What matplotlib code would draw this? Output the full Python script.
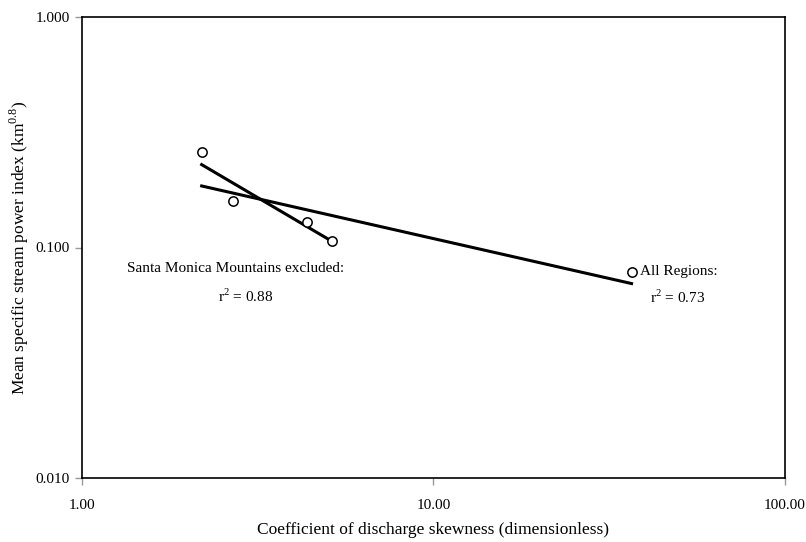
import numpy as np
import matplotlib
matplotlib.use("Agg")
import matplotlib.pyplot as plt
from matplotlib.ticker import FixedLocator, FormatStrFormatter, NullLocator

plt.rcParams['font.family'] = ['Liberation Serif', 'DejaVu Serif']
plt.rcParams['mathtext.fontset'] = 'custom'
plt.rcParams['mathtext.rm'] = 'Liberation Serif'

# data
skewness = [2.19, 2.69, 4.37, 5.14, 36.6]
stream_power = [0.260, 0.159, 0.129, 0.107, 0.078]
n_excl = 4  # Santa Monica Mountains excluded -> first four regions

fig = plt.figure(figsize=(8.06, 5.42), dpi=100)
ax = fig.add_axes([82 / 806, 1 - 478 / 542, 703 / 806, 461 / 542])

ax.scatter(skewness, stream_power, s=45, facecolors='white', edgecolors='black',
           linewidths=1.1, zorder=3)


def power_fit(x, y):
    lx, ly = np.log10(x), np.log10(y)
    b, a = np.polyfit(lx, ly, 1)
    xs = np.array([min(x), max(x)])
    return xs, 10 ** (a + b * np.log10(xs))


xs, ys = power_fit(skewness[:n_excl], stream_power[:n_excl])
ax.plot(xs, ys, color='black', lw=2.2, zorder=2)
xs, ys = power_fit(skewness, stream_power)
ax.plot(xs, ys, color='black', lw=2.2, zorder=2)

ax.set_xscale('log')
ax.set_yscale('log')
ax.set_xlim(1, 100)
ax.set_ylim(0.01, 1)
ax.xaxis.set_major_locator(FixedLocator([1, 10, 100]))
ax.yaxis.set_major_locator(FixedLocator([0.01, 0.1, 1]))
ax.xaxis.set_minor_locator(NullLocator())
ax.yaxis.set_minor_locator(NullLocator())
ax.xaxis.set_major_formatter(FormatStrFormatter('%.2f'))
ax.yaxis.set_major_formatter(FormatStrFormatter('%.3f'))
ax.tick_params(axis='both', direction='out', length=5, width=1, color='#999999',
               labelsize=11)
ax.tick_params(axis='y', pad=4)
ax.tick_params(axis='x', pad=10)
for sp in ax.spines.values():
    sp.set_linewidth(1.2)

ax.set_xlabel('Coefficient of discharge skewness (dimensionless)', fontsize=12.5)
ax.set_ylabel('Mean specific stream power index (km$^{0.8}$)', fontsize=12.5)
ax.xaxis.set_label_coords(0.5, -(530 - 478) / 461)
ax.yaxis.set_label_coords(-(82 - 19) / 703, 0.5)
ax.xaxis.label.set_va('center')
ax.yaxis.label.set_va('center')

ax.text(127 / 806, 1 - 268 / 542, 'Santa Monica Mountains excluded:', transform=fig.transFigure,
        fontsize=11, ha='left', va='center')
ax.text(246 / 806, 1 - 296 / 542, 'r$^2$ = 0.88', transform=fig.transFigure,
        fontsize=11, ha='center', va='center')
ax.text(640 / 806, 1 - 272 / 542, 'All Regions:', transform=fig.transFigure,
        fontsize=11, ha='left', va='center')
ax.text(678 / 806, 1 - 297 / 542, 'r$^2$ = 0.73', transform=fig.transFigure,
        fontsize=11, ha='center', va='center')

fig.savefig('out.png', dpi=100, facecolor='white')
